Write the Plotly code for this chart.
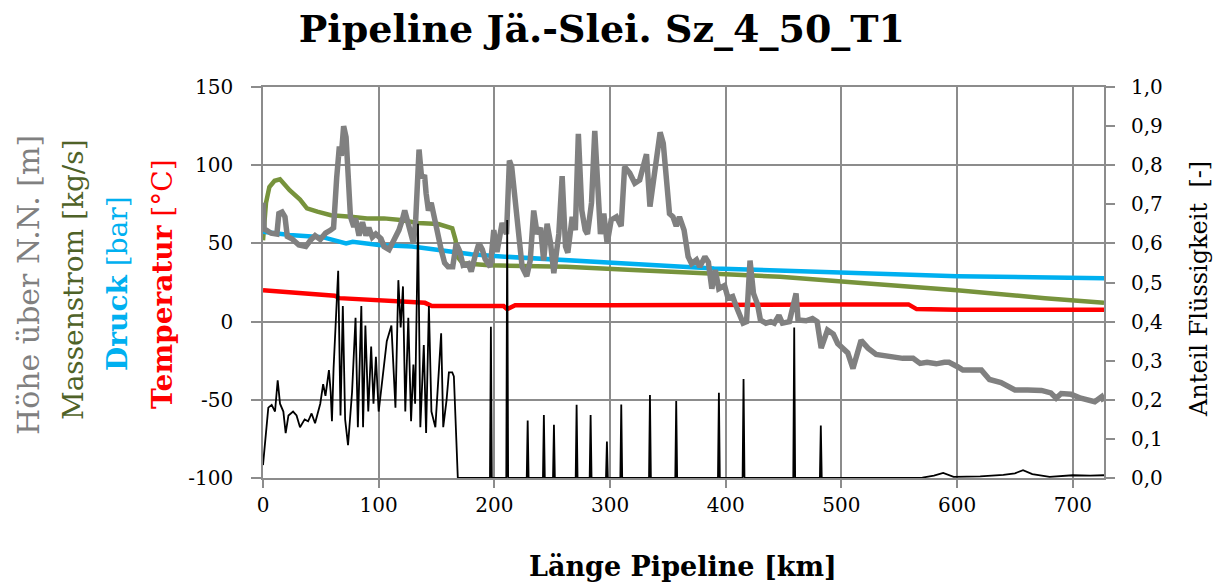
import plotly.graph_objects as go

# ---------------- data ----------------
# Elevation (Höhe über N.N. [m]) – left axis
hoehe_x = [0, 1, 3, 7, 12, 13.7, 16.5, 19, 21, 25, 31, 37, 41, 45, 49.5, 54, 58.5, 61, 63.7, 66,
           67.7, 69.7, 71.8, 73.5, 75.6, 78.5, 80, 83, 86, 89, 91.5, 94.5, 97.5, 102, 104.6, 109,
           112, 115, 117.5, 120.4, 122.5, 124.7, 127.6, 130, 132, 134.9, 137, 139.8, 141, 143,
           145.4, 148.3, 151, 154, 157, 160, 164, 167, 170, 173, 177.5, 180, 183, 186.7, 189.6,
           192, 196.5, 199.5, 202.3, 206.7, 210.5, 213, 215, 218, 221, 224, 228, 231, 234, 237,
           240, 242.6, 245.6, 248.6, 251.4, 255.7, 258.6, 261.5, 263.5, 267.3, 270, 272.6, 275.6,
           278.5, 280.5, 284, 286.8, 288.8, 291.7, 294.6, 297.5, 301, 305.5, 309.6, 312.6, 317,
           321.4, 325.6, 328.6, 331.5, 334.5, 337.5, 340.4, 343.3, 346, 348.5, 351.4, 354.4,
           357.2, 360, 364, 367.5, 370.5, 374.7, 377.6, 382, 385, 388, 391, 394, 399, 402, 406,
           410, 415, 418, 421, 424, 427.5, 430, 434.7, 439, 442, 446, 449, 455, 458, 460.8, 462.5,
           469.5, 475, 479, 482.5, 488, 493, 496.8, 505.5, 510, 517, 523, 530, 542, 553, 562, 568,
           574, 582, 589, 593, 600.8, 605, 621, 628, 638, 650, 661, 673, 681, 685.6, 690, 698.6,
           707, 719, 725, 727]
hoehe_y = [76, 59, 58.5, 56.5, 56, 69, 70, 67, 54.5, 53, 49, 48, 52, 55, 52.5, 56.5, 58.5, 60, 92,
           112, 106, 125, 118, 93, 67, 60.5, 66, 55, 63.5, 55, 60, 54, 56, 53, 48, 46,
           50, 55, 58.5, 65, 71, 65, 55, 50, 65, 110, 93, 92.5, 82, 71,
           76, 65, 55, 46, 37.5, 35, 35, 50, 45, 36, 37, 32, 41, 50, 46,
           40, 35, 58.5, 44.5, 63, 56, 103, 99, 76, 52, 35, 29, 39, 71, 56,
           60, 39, 62.5, 50, 31, 56, 93, 48, 44, 67, 58.5, 120, 71,
           58.5, 56, 76, 122, 93, 56, 69, 50, 65, 67, 61, 99, 95,
           88.5, 90.5, 99, 107, 73.5, 88.5, 103, 121, 114, 88.5, 69, 67,
           61, 67, 58.5, 41.5, 37, 39.5, 35, 41.5, 38, 21, 33, 21, 23, 15, 16,
           8, -1, 0, 39, 18, 11, 1, -1, 0, -1, 4, -1, 0, 9, 18, 1,
           0.5, 2, 0, -17, -5.4, -8, -14, -20, -30, -12, -17, -21, -22.5, -23.5, -23.5, -26.7,
           -26, -27, -26, -26, -29, -31, -31, -37, -39, -43.7, -43.7, -44, -45.6, -49, -46, -46.5,
           -49, -51.2, -48, -51]

# Mass flow (Massenstrom [kg/s]) – left axis
massenstrom_x = [0, 2.6, 5.5, 10, 14.7, 17.6, 23, 32, 38, 47, 58.7, 76, 90, 104.6, 119, 134, 151.6,
                 163.6, 166.5, 168, 172.6, 195.6, 262, 320, 390, 447, 520, 600, 676, 727]
massenstrom_y = [52, 76, 86, 90, 91, 88.4, 84, 78, 72.4, 70.3, 68, 67, 66, 66, 65, 63, 62.4,
                 59.6, 52, 41.5, 37.3, 36, 35, 33, 31, 28.7, 24.5, 20, 15, 12]

# Pressure (Druck [bar]) – left axis
druck_x = [0, 23, 51.5, 63, 71.8, 77.5, 100, 129, 151.6, 180, 209, 261, 321, 390, 451, 520, 600, 727]
druck_y = [57.5, 55.4, 54, 52, 50, 51, 49, 48, 45.8, 43, 41.5, 39, 36.8, 34, 32.5, 30.5, 29, 27.7]

# Temperature (Temperatur [°C]) – left axis
temp_x = [0, 20, 50, 62, 66, 80, 100, 120, 140, 146, 165, 180, 200, 208, 211, 218, 300, 400, 500,
          558, 565, 600, 727]
temp_y = [20, 19, 17.5, 16.5, 15, 14.5, 13.5, 12.8, 12, 10, 9.8, 10, 10, 10, 8, 10.5, 10.5, 11, 11,
          11, 8, 7.5, 7.5]

# Liquid fraction (Anteil Flüssigkeit [-]) – right axis
anteil_x = [0, 4.6, 7.5, 10.4, 12.7, 14.7, 17.6, 19.6, 22, 26, 29, 32, 36, 39, 42, 45, 49.5, 52, 54,
            57, 58.5, 59.6, 61, 63, 65, 67, 69, 71, 73.5, 77, 80, 82, 85, 86.5, 88.5, 91, 93.5,
            95.5, 97.6, 100, 104, 107, 111, 114.5, 117, 119, 121, 123, 125.6, 128, 130, 131.5,
            134, 136, 139, 141, 143.4, 145.6, 149, 152, 154, 155.8, 158.7, 160.7, 163.6, 165,
            168.4,
            196.2, 197.0, 197.8, 210.3, 211.1, 211.9, 228.0, 228.8, 229.6, 242.0, 242.8, 243.6,
            250.7, 251.5, 252.3, 270.3, 271.1, 271.9, 282.4, 283.2, 284.0, 296.5, 297.3, 298.1,
            308.9, 309.7, 310.5, 333.7, 334.5, 335.3, 356.4, 357.2, 358.0, 393.3, 394.1, 394.9,
            414.6, 415.4, 416.2, 458.4, 459.2, 460.0, 481.4, 482.2, 483.0,
            570, 580, 588, 597, 620, 640, 650, 657, 665, 680, 700, 715, 727]
anteil_y = [0.033, 0.18, 0.187, 0.17, 0.25, 0.19, 0.17, 0.115, 0.16, 0.17, 0.16, 0.13, 0.15, 0.145,
            0.165, 0.14, 0.19, 0.24, 0.21, 0.276, 0.22, 0.145, 0.28, 0.40, 0.53, 0.16, 0.44, 0.15,
            0.084, 0.22, 0.41, 0.13, 0.44, 0.13, 0.39, 0.17, 0.336, 0.19, 0.31, 0.17, 0.27, 0.35,
            0.39, 0.18, 0.506, 0.385, 0.49, 0.17, 0.41, 0.145, 0.29, 0.19, 0.65, 0.13, 0.34,
            0.115, 0.44, 0.17, 0.13, 0.28, 0.37, 0.13, 0.2, 0.27, 0.27, 0.26, 0.0,
            0.0, 0.387, 0.0, 0.0, 0.66, 0.0, 0.0, 0.147, 0.0, 0.0, 0.161, 0.0,
            0.0, 0.136, 0.0, 0.0, 0.187, 0.0, 0.0, 0.161, 0.0, 0.0, 0.093, 0.0,
            0.0, 0.188, 0.0, 0.0, 0.212, 0.0, 0.0, 0.197, 0.0, 0.0, 0.218, 0.0,
            0.0, 0.253, 0.0, 0.0, 0.385, 0.0, 0.0, 0.134, 0.0,
            0.001, 0.006, 0.013, 0.003, 0.004, 0.008, 0.012, 0.02, 0.01, 0.003, 0.007, 0.006, 0.007]

left_ticks = [-100, -50, 0, 50, 100, 150]
left_ticktext = ["-100", "-50", "0", "50", "100", "150"]
right_ticks = [0.0, 0.1, 0.2, 0.3, 0.4, 0.5, 0.6, 0.7, 0.8, 0.9, 1.0]
right_ticktext = ["0,0", "0,1", "0,2", "0,3", "0,4", "0,5", "0,6", "0,7", "0,8", "0,9", "1,0"]
x_ticks = [0, 100, 200, 300, 400, 500, 600, 700]

# ---------------- styling ----------------
FONT = "DejaVu Serif"
GRID = "#8c8c8c"
C_GRAY = "#808080"
C_GREEN_LINE = "#77933C"
C_GREEN_TXT = "#4F6228"
C_BLUE = "#00B0F0"
C_RED = "#FF0000"

fig = go.Figure()
fig.add_trace(go.Scatter(x=massenstrom_x, y=massenstrom_y, mode="lines",
                         line=dict(color=C_GREEN_LINE, width=4.5), name="Massenstrom"))
fig.add_trace(go.Scatter(x=druck_x, y=druck_y, mode="lines",
                         line=dict(color=C_BLUE, width=4.5), name="Druck"))
fig.add_trace(go.Scatter(x=temp_x, y=temp_y, mode="lines",
                         line=dict(color=C_RED, width=4.5), name="Temperatur"))
fig.add_trace(go.Scatter(x=hoehe_x, y=hoehe_y, mode="lines",
                         line=dict(color=C_GRAY, width=5.5), name="Höhe"))
fig.add_trace(go.Scatter(x=anteil_x, y=anteil_y, mode="lines", yaxis="y2",
                         line=dict(color="black", width=1.8), name="Anteil Flüssigkeit"))

tickfont = dict(family=FONT, size=20, color="black")

fig.update_layout(
    width=1216, height=584,
    margin=dict(l=263, r=112, t=87, b=106),
    paper_bgcolor="white", plot_bgcolor="white",
    showlegend=False,
    title=dict(text="<b>Pipeline Jä.-Slei. Sz_4_50_T1</b>", x=0.495, xanchor="center",
               y=1 - 29 / 584, yanchor="middle", yref="container",
               font=dict(family=FONT, size=38, color="black")),
    xaxis=dict(range=[0, 727], tickvals=x_ticks, showgrid=True, gridcolor=GRID, gridwidth=1.5,
               showline=True, linecolor=GRID, linewidth=1.5, mirror=True, zeroline=False,
               ticks="outside", ticklen=8, tickcolor=GRID, tickwidth=1.5, tickfont=tickfont),
    yaxis=dict(range=[-100, 150], tickvals=left_ticks, ticktext=left_ticktext, showgrid=True,
               gridcolor=GRID, gridwidth=1.5, showline=True, linecolor=GRID, linewidth=1.5,
               mirror=True, zeroline=False, ticks="outside", ticklen=10, tickcolor=GRID,
               tickwidth=1.5, tickfont=tickfont, ticklabelstandoff=14),
    yaxis2=dict(range=[0, 1], overlaying="y", side="right", tickvals=right_ticks,
                ticktext=right_ticktext, showgrid=False, zeroline=False, showline=False,
                ticks="outside", ticklen=10, tickcolor=GRID, tickwidth=1.5, tickfont=tickfont,
                ticklabelstandoff=12),
)

def px_to_paper_x(px):
    return (px - 263) / 841

def py_to_paper_y(py):
    return (478 - py) / 391

ann = [
    dict(text="Höhe über N.N. [m]", color=C_GRAY, px=28, py=285, size=30),
    dict(text="Massenstrom [kg/s]", color=C_GREEN_TXT, px=73, py=280, size=28),
    dict(text="<b>Druck</b> [bar]", color=C_BLUE, px=117, py=284, size=28),
    dict(text="<b>Temperatur</b> [°C]", color=C_RED, px=162, py=284, size=28),
]
for a in ann:
    fig.add_annotation(text=a["text"], xref="paper", yref="paper",
                       x=px_to_paper_x(a["px"]), y=py_to_paper_y(a["py"]),
                       xanchor="center", yanchor="middle", textangle=-90, showarrow=False,
                       font=dict(family=FONT, size=a["size"], color=a["color"]))

fig.add_annotation(text="Anteil Flüssigkeit  [-]", xref="paper", yref="paper",
                   x=px_to_paper_x(1199), y=py_to_paper_y(289), xanchor="center",
                   yanchor="middle", textangle=-90, showarrow=False,
                   font=dict(family=FONT, size=24, color="black"))
fig.add_annotation(text="<b>Länge Pipeline [km]</b>", xref="paper", yref="paper",
                   x=px_to_paper_x(683), y=py_to_paper_y(566), xanchor="center",
                   yanchor="middle", showarrow=False,
                   font=dict(family=FONT, size=27, color="black"))

fig.write_html("out.html", config={"displayModeBar": False},
               post_script="document.body.style.margin='0px';")
